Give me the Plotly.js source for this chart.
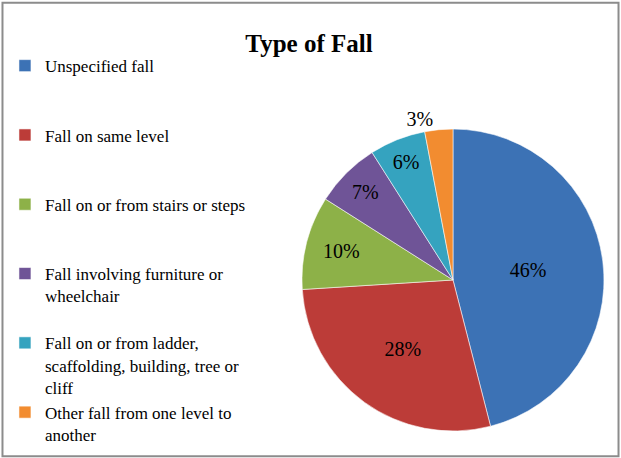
<!DOCTYPE html>
<html>
<head>
<meta charset="utf-8">
<script src="https://cdn.plot.ly/plotly-3.0.1.min.js"></script>
<style>
  html, body { margin: 0; padding: 0; background: #ffffff; }
  #chart { width: 621px; height: 458px; }
</style>
</head>
<body>
<div id="chart"></div>
<script>
// ---- data ----
const categories = [
  "Unspecified fall",
  "Fall on same level",
  "Fall on or from stairs or steps",
  "Fall involving furniture or<br>wheelchair",
  "Fall on or from ladder,<br>scaffolding, building, tree or<br>cliff",
  "Other fall from one level to<br>another"
];
const percentages = [46, 28, 10, 7, 6, 3];
const sliceColors = ["#3C72B5", "#BC3C38", "#8DB148", "#6F5497", "#35A3BF", "#F28C30"];
const labelPositions = ["inside", "inside", "inside", "inside", "inside", "outside"];
const chartTitle = "Type of Fall";

// pad legend labels (all but the last) with blank lines so entries are evenly spaced
const linesPerEntry = 3;
const legendLabels = categories.map(function (c, idx) {
  if (idx === categories.length - 1) return c;
  const n = c.split("<br>").length;
  let s = c;
  for (let i = n; i < linesPerEntry; i++) s += "<br> ";
  return s;
});

const trace = {
  type: "pie",
  labels: legendLabels,
  values: percentages,
  text: percentages.map(function (v) { return v + "%"; }),
  textinfo: "text",
  textposition: labelPositions,
  insidetextorientation: "horizontal",
  sort: false,
  direction: "clockwise",
  rotation: 0,
  marker: { colors: sliceColors, line: { color: "rgba(255,255,255,0.55)", width: 1 } },
  textfont: { family: "Liberation Serif", size: 20, color: "#000" },
  outsidetextfont: { family: "Liberation Serif", size: 20, color: "#000" },
  domain: { x: [0.4863, 0.9726], y: [0.059, 0.7183] }
};

const layout = {
  width: 621,
  height: 458,
  margin: { l: 0, r: 0, t: 0, b: 0 },
  font: { family: "Liberation Serif", color: "#000" },
  title: {
    text: "<b>" + chartTitle + "</b>",
    font: { family: "Liberation Serif", size: 25 },
    x: 0.4976, xanchor: "center",
    y: 0.906, yanchor: "middle", yref: "container"
  },
  uniformtext: { mode: "show", minsize: 20 },
  showlegend: true,
  legend: {
    x: 0.008, xanchor: "left",
    y: 0.895, yanchor: "top",
    font: { family: "Liberation Serif", size: 17 },
    valign: "top"
  },
  shapes: [{
    type: "rect", xref: "paper", yref: "paper",
    x0: 0.004, x1: 0.996, y0: 0.004, y1: 0.994,
    line: { color: "#8c8c8c", width: 2 }
  }]
};

Plotly.newPlot("chart", [trace], layout, { staticPlot: true });
</script>
</body>
</html>
